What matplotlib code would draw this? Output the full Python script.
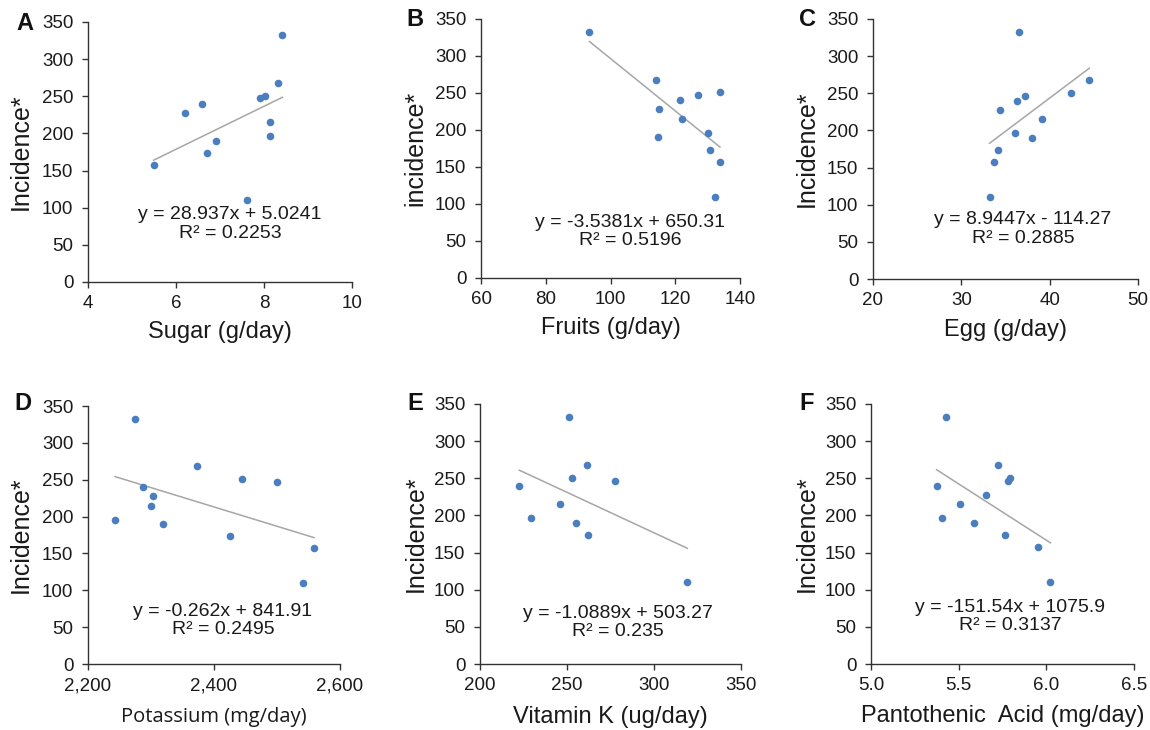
import numpy as np
import matplotlib
matplotlib.use("Agg")
import matplotlib.pyplot as plt
from matplotlib.ticker import FuncFormatter

plt.rcParams['font.family'] = ['Liberation Sans', 'DejaVu Sans']

# Incidence values (same 12 countries in each panel)
incidence = [332, 268, 251, 247, 240, 228, 215, 196, 190, 173, 157, 110]

sugar = [8.42, 8.32, 8.02, 7.90, 6.60, 6.21, 8.13, 8.13, 6.90, 6.70, 5.49, 7.61]
fruits = [93.5, 114.1, 133.8, 127.0, 121.4, 115.1, 122.1, 130.2, 114.6, 130.8, 133.8, 132.4]
egg = [36.5, 44.5, 42.4, 37.2, 36.35, 34.4, 39.1, 36.1, 38.0, 34.15, 33.7, 33.2]
potassium = [2274, 2373, 2445, 2500, 2288, 2303, 2300, 2243, 2319, 2426, 2559, 2541]
vitamin_k = [251.2, 261.2, 253.1, 277.3, 222.6, np.nan, 246.2, 229.2, 255.2, 262.3, np.nan, 319.1]
pantothenic = [5.425, 5.723, 5.794, 5.784, 5.374, 5.657, 5.507, 5.406, 5.587, 5.765, 5.951, 6.023]

slopes = [28.937, -3.5381, 8.9447, -0.262, -1.0889, -151.54]
intercepts = [5.0241, 650.31, -114.27, 841.91, 503.27, 1075.9]
equations = ["y = 28.937x + 5.0241\nR² = 0.2253",
             "y = -3.5381x + 650.31\nR² = 0.5196",
             "y = 8.9447x - 114.27\nR² = 0.2885",
             "y = -0.262x + 841.91\nR² = 0.2495",
             "y = -1.0889x + 503.27\nR² = 0.235",
             "y = -151.54x + 1075.9\nR² = 0.3137"]
letters = ["A", "B", "C", "D", "E", "F"]
ylabels = ["Incidence*", "incidence*", "Incidence*", "Incidence*", "Incidence*", "Incidence*"]
xlabels = ["Sugar (g/day)", "Fruits (g/day)", "Egg (g/day)",
           "Potassium (mg/day)", "Vitamin K (ug/day)", "Pantothenic  Acid (mg/day)"]
xlims = [(4, 10), (60, 140), (20, 50), (2200, 2600), (200, 350), (5.0, 6.5)]
xticks = [[4, 6, 8, 10], [60, 80, 100, 120, 140], [20, 30, 40, 50],
          [2200, 2400, 2600], [200, 250, 300, 350], [5.0, 5.5, 6.0, 6.5]]
yticks = [0, 50, 100, 150, 200, 250, 300, 350]
xdata = [sugar, fruits, egg, potassium, vitamin_k, pantothenic]

# layout (figure fraction): left, bottom, width, height
positions = [
    (0.0765, 0.6137, 0.2296, 0.3562),
    (0.4183, 0.6192, 0.2252, 0.3548),
    (0.7591, 0.6178, 0.2304, 0.3562),
    (0.0765, 0.0904, 0.2191, 0.3534),
    (0.4174, 0.0904, 0.2270, 0.3562),
    (0.7574, 0.0904, 0.2287, 0.3562),
]
eq_pos = [(0.538, 0.223), (0.575, 0.18), (0.566, 0.192),
          (0.536, 0.168), (0.529, 0.16), (0.528, 0.183)]
ylab_x = [-0.254, -0.255, -0.249, -0.266, -0.245, -0.243]
xlab_y = [-0.192, -0.193, -0.196, -0.205, -0.204, -0.200]
letter_pos = [(25, 23), (415, 20), (807, 19), (23, 404), (415, 403), (807, 403)]

fig = plt.figure(figsize=(11.5, 7.3), dpi=100)
blue = '#4a7ebf'
for i in range(6):
    ax = fig.add_axes(positions[i])
    x = np.array(xdata[i], dtype=float)
    y = np.array(incidence, dtype=float)
    ok = ~np.isnan(x)
    ax.scatter(x[ok], y[ok], s=30, color=blue, zorder=3, linewidths=0)
    xs = np.array([x[ok].min(), x[ok].max()])
    ax.plot(xs, slopes[i] * xs + intercepts[i], color='#a6a6a6', lw=1.1, zorder=2)
    ax.set_xlim(*xlims[i])
    ax.set_ylim(0, 350)
    ax.set_xticks(xticks[i])
    ax.set_yticks(yticks)
    if i == 3:
        ax.xaxis.set_major_formatter(FuncFormatter(lambda v, p: f"{int(v):,}"))
    elif i == 5:
        ax.xaxis.set_major_formatter(FuncFormatter(lambda v, p: f"{v:.1f}"))
    for s in ['top', 'right']:
        ax.spines[s].set_visible(False)
    for s in ['left', 'bottom']:
        ax.spines[s].set_color('#333333')
        ax.spines[s].set_linewidth(1.0)
    ax.tick_params(axis='both', direction='out', length=4.5, width=1.0,
                   color='#333333', labelsize=13.5, labelcolor='#1a1a1a')
    ax.tick_params(axis='y', pad=6)
    ax.tick_params(axis='x', pad=5)
    ax.set_ylabel(ylabels[i], fontsize=18, color='#1a1a1a', va='center')
    ax.yaxis.set_label_coords(ylab_x[i], 0.5)
    if i == 3:
        ax.set_xlabel(xlabels[i], fontsize=14.5, color='#1a1a1a', va='center',
                      family=['Open Sans', 'DejaVu Sans'])
    else:
        ax.set_xlabel(xlabels[i], fontsize=17, color='#1a1a1a', va='center')
    ax.xaxis.set_label_coords(0.5, xlab_y[i])
    ax.text(eq_pos[i][0], eq_pos[i][1], equations[i], transform=ax.transAxes,
            ha='center', va='center', fontsize=14, color='#1a1a1a',
            linespacing=1.1)
    lx, ly = letter_pos[i]
    fig.text(lx / 1150, 1 - ly / 730, letters[i], ha='center', va='center',
             fontsize=17, fontweight='bold', color='#111111')

fig.savefig('out.png', dpi=100)
